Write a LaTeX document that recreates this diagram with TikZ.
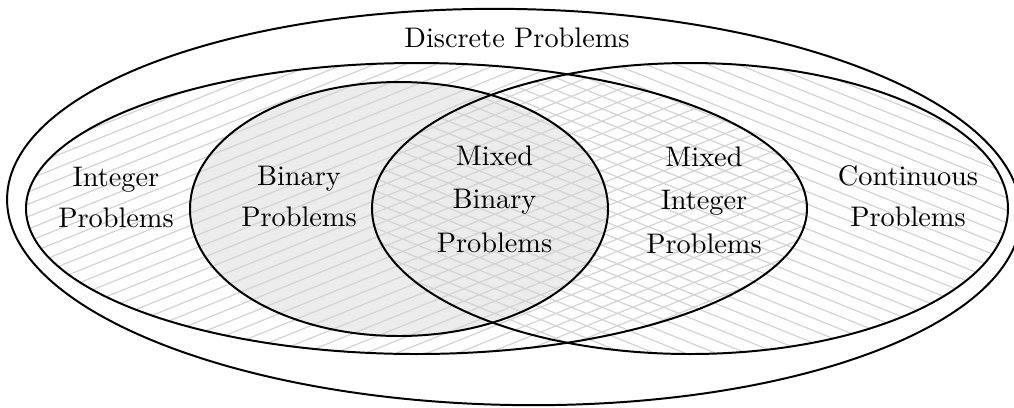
\documentclass[tikz,border=0pt]{standalone}
\usetikzlibrary{calc}
\definecolor{binfill}{RGB}{236,236,236}
\definecolor{hatchgray}{RGB}{212,212,212}
\begin{document}
\begin{tikzpicture}[x=0.3535pt,y=-0.3535pt,
  outline/.style={draw=black,line width=0.7pt},
  hatchline/.style={draw=hatchgray,line width=0.45pt},
  lbl/.style={align=center,inner sep=0pt,outer sep=0pt,font=\fontsize{10}{14.5}\selectfont},
  lblthree/.style={align=center,inner sep=0pt,outer sep=0pt,font=\fontsize{10}{15.4}\selectfont}]
\clip (0,0) rectangle (1014,407);
% binary fill
\fill[binfill] (399,209) ellipse [x radius=209, y radius=127];
% left hatch (integer)
\begin{scope}
  \clip (416.5,208.5) ellipse [x radius=390.5, y radius=145.5];
  \begin{scope}[shift={(510,208)},rotate=22]
    \foreach \k in {-55,...,55} \draw[hatchline] (-800,\k*11.5) -- (800,\k*11.5);
  \end{scope}
\end{scope}
% right hatch (continuous)
\begin{scope}
  \clip (690,208.5) ellipse [x radius=318, y radius=145.5];
  \begin{scope}[shift={(510,208)},rotate=-22]
    \foreach \k in {-55,...,55} \draw[hatchline] (-800,\k*11.5) -- (800,\k*11.5);
  \end{scope}
\end{scope}
% outlines
\begin{scope}[shift={(514,207)},rotate=-1]
  \draw[outline] (0,0) ellipse [x radius=507, y radius=198];
\end{scope}
\draw[outline] (416.5,208.5) ellipse [x radius=390.5, y radius=145.5];
\draw[outline] (690,208.5) ellipse [x radius=318, y radius=145.5];
\draw[outline] (399,209) ellipse [x radius=209, y radius=127];
% labels
\node[lbl] (discrete) at (517,38.3) {Discrete Problems};
\node[lbl] (integer) at (116,197) {Integer\\Problems};
\node[lbl] (binary) at (299,196) {Binary\\Problems};
\node[lblthree] (mixbin) at (494.5,199) {Mixed\\Binary\\Problems};
\node[lblthree] (mixint) at (704,200) {Mixed\\Integer\\Problems};
\node[lbl] (cont) at (908,196) {Continuous\\Problems};
\end{tikzpicture}
\end{document}
